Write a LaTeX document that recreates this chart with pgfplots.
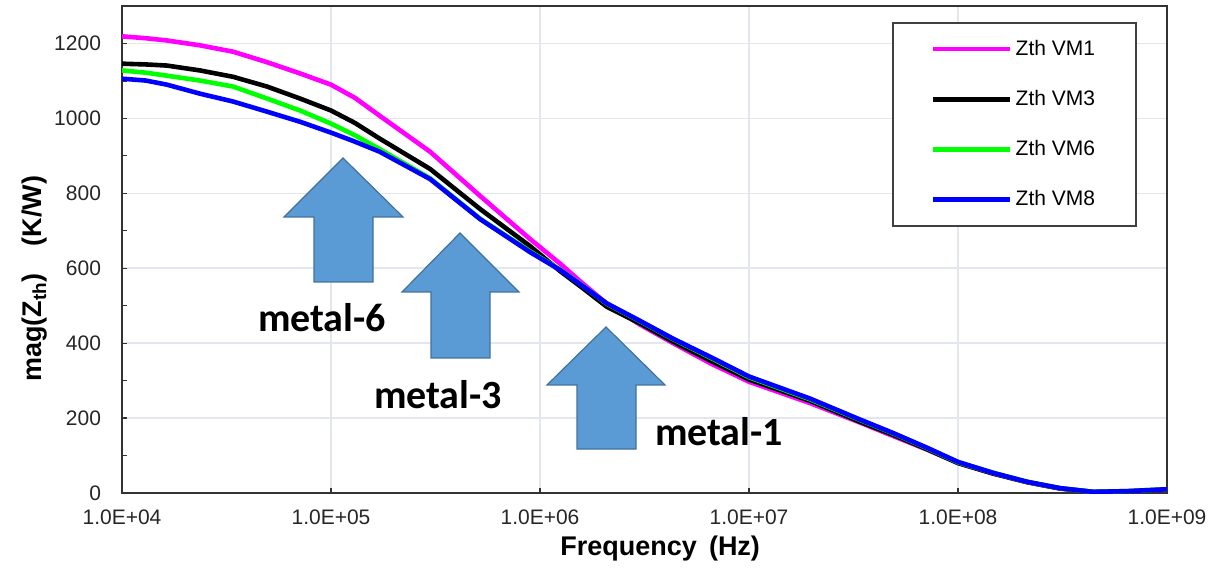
\documentclass[border=0pt]{standalone}
\usepackage{pgfplots}
\pgfplotsset{compat=1.18}
\usepackage{pgfplotstable}
\usepackage{fontspec}
\setmainfont{Liberation Sans}
\newfontfamily\calibri{Carlito}
\definecolor{arrowfill}{HTML}{5B9BD5}
\definecolor{arrowdraw}{HTML}{41719C}
\definecolor{gridc}{HTML}{E4E6EE}
\definecolor{cmag}{HTML}{FF00FF}
\definecolor{cgreen}{HTML}{00FF00}
\definecolor{cblue}{HTML}{0000FF}
\pgfplotstableread{
f      VM1   VM3   VM6   VM8
1e4    1219  1146  1128  1106
1.3e4  1214  1144  1122  1101
1.64e4 1208  1141  1114  1090
2.36e4 1195  1128  1101  1066
3.4e4  1178  1111  1085  1045
4.94e4 1150  1085  1053  1018
7.11e4 1120  1053  1021  991
1e5    1090  1021  986   962
1.3e5  1055  988   955   938
1.71e5 1007  946   918   911
2.98e5 911   865   840   838
5.17e5 793   758   732   731
8.96e5 678   659   645   643
1.25e6 612   592   596   595
1.55e6 566   553   559   558
2.09e6 505   497   505   506
3e6    450   453   459   460
4.33e6 400   404   411   412
6.6e6  345   352   360   362
1e7    297   303   309   311
1.96e7 240   246   250   252
3.4e7  188   190   195   196
4.9e7  152   155   159   160
7.1e7  116   117   120   121
1e8    80    80    82    83
1.47e8 52    52    54    54
2.14e8 29    29    30    30
3.08e8 12    12    13    13
4.43e8 3     3     3     3
6.44e8 4     4     5     5
1e9    9     9     10    10
}\zth
\begin{document}
\begin{tikzpicture}
\path[use as bounding box] (-61pt,-43pt) rectangle (545pt,246.5pt);
\begin{axis}[
  at={(0,0)}, anchor=south west,
  scale only axis, width=522.5pt, height=243.5pt,
  xmode=log, xmin=1e4, xmax=1e9,
  ymin=0, ymax=1300,
  xtick={1e4,1e5,1e6,1e7,1e8,1e9},
  xticklabels={1.0E+04,1.0E+05,1.0E+06,1.0E+07,1.0E+08,1.0E+09},
  ytick={0,200,...,1200},
  minor y tick num=1,
  log basis x=10,
  grid=major,
  major grid style={gridc, line width=0.8pt},
  axis line style={black!80, line width=0.7pt},
  tick style={black!80, line width=0.6pt},
  major tick length=2.5pt, minor tick length=2.5pt,
  tick align=inside,
  xtick pos=bottom, ytick pos=left,
  /pgf/number format/assume math mode=true,
  /pgf/number format/1000 sep={},
  tick label style={font=\fontsize{10.5}{12}\selectfont, text=black!85},
  xticklabel style={yshift=-5pt},
  yticklabel style={xshift=-7pt},
  xlabel={\textbf{Frequency\hspace{0.45em}(Hz)}},
  ylabel={\textbf{mag(Z\textsubscript{th})\hspace{1em}(K/W)}},
  label style={font=\fontsize{13.5}{15}\selectfont},
  xlabel style={at={(axis description cs:0.515,-0.115)}, anchor=center},
  ylabel style={at={(axis description cs:-0.0833,0.44)}, anchor=center},
  legend cell align=left,
  legend style={at={(rel axis cs:0.737,0.967)}, anchor=north west,
    draw=black!75, line width=0.9pt, inner xsep=19pt, inner ysep=7pt,
    row sep=13pt, font=\fontsize{10.5}{12}\selectfont,
    nodes={inner sep=1.5pt}},
  legend image code/.code={\draw[#1] (0pt,0pt) -- (38.5pt,0pt);},
]
\addplot[cmag, line width=2.3pt] table[x=f,y=VM1] {\zth};
\addlegendentry{Zth VM1}
\addplot[black, line width=2.3pt] table[x=f,y=VM3] {\zth};
\addlegendentry{Zth VM3}
\addplot[cgreen, line width=2.3pt] table[x=f,y=VM6] {\zth};
\addlegendentry{Zth VM6}
\addplot[cblue, line width=2.3pt] table[x=f,y=VM8] {\zth};
\addlegendentry{Zth VM8}
\end{axis}
\begin{scope}[x=0.5pt,y=-0.5pt,shift={(-61pt,246.5pt)}]
\draw[arrowdraw, fill=arrowfill, line width=0.6pt, line join=miter]
  (343,158) -- (403,217) -- (373,217) -- (373,282) -- (314,282) -- (314,217) -- (284,217) -- cycle;
\draw[arrowdraw, fill=arrowfill, line width=0.6pt, line join=miter]
  (460,233) -- (519,292) -- (490,292) -- (490,358) -- (431,358) -- (431,292) -- (402,292) -- cycle;
\draw[arrowdraw, fill=arrowfill, line width=0.6pt, line join=miter]
  (606,327) -- (665,385) -- (636,385) -- (636,449) -- (577,449) -- (577,385) -- (547,385) -- cycle;
\node[font=\calibri\bfseries\fontsize{20}{24}\selectfont] at (322,318) {metal-6};
\node[font=\calibri\bfseries\fontsize{20}{24}\selectfont] at (438,395) {metal-3};
\node[font=\calibri\bfseries\fontsize{20}{24}\selectfont] at (719,432) {metal-1};
\end{scope}
\end{tikzpicture}
\end{document}
